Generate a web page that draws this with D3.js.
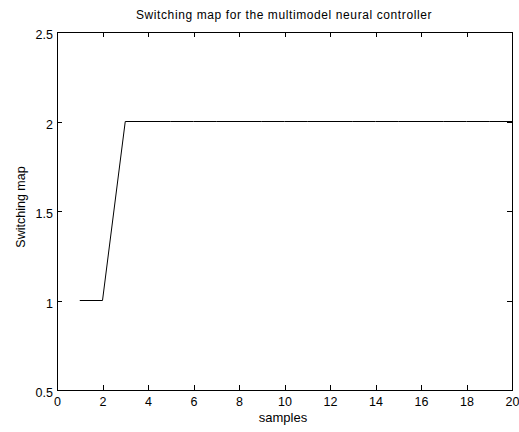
<!DOCTYPE html>
<html><head><meta charset="utf-8">
<script src="https://cdn.jsdelivr.net/npm/d3@7"></script>
<style>body{margin:0;background:#fff}svg{display:block}text{font-family:"Liberation Sans",Arial,sans-serif;fill:#000}</style>
</head><body><svg id="c" width="519" height="432"></svg>
<script>
const samples = [1,2,3,4,5,6,7,8,9,10,11,12,13,14,15,16,17,18,19,20];
const switchingMap = [1,1,2,2,2,2,2,2,2,2,2,2,2,2,2,2,2,2,2,2];
const xTicks = [0,2,4,6,8,10,12,14,16,18,20];
const yTicks = [0.5,1,1.5,2,2.5];
const title = "Switching map for the multimodel neural controller";
const xLabel = "samples", yLabel = "Switching map";

const svg = d3.select("#c");
const L=57, R=512, T=32, B=390;
const x = d3.scaleLinear().domain([0,20]).range([L,R]);
const y = d3.scaleLinear().domain([0.5,2.5]).range([B,T]);
svg.append("rect").attr("width",519).attr("height",432).attr("fill","#fff");
const fmt = d=>String(d);
const ax = svg.append("g").attr("transform",`translate(0,${B})`).call(d3.axisBottom(x).tickValues(xTicks).tickFormat(fmt).tickSizeInner(-5).tickSizeOuter(0).tickPadding(7));
const axT = svg.append("g").attr("transform",`translate(0,${T})`).call(d3.axisTop(x).tickValues(xTicks).tickFormat("").tickSizeInner(-5).tickSizeOuter(0));
const ay = svg.append("g").attr("transform",`translate(${L},0)`).call(d3.axisLeft(y).tickValues(yTicks).tickFormat(fmt).tickSizeInner(-5).tickSizeOuter(0).tickPadding(4));
const ayR = svg.append("g").attr("transform",`translate(${R},0)`).call(d3.axisRight(y).tickValues(yTicks).tickFormat("").tickSizeInner(-5).tickSizeOuter(0));
[ax,axT,ay,ayR].forEach(g=>{g.selectAll("path,line").attr("stroke","#000").attr("shape-rendering","crispEdges");g.selectAll("text").attr("font-size",12.5).attr("font-family","Liberation Sans, Arial, sans-serif");});
ax.selectAll("text").attr("dy","0.71em");
ay.selectAll("text").attr("dy","0.55em");
svg.append("rect").attr("x",L).attr("y",T).attr("width",R-L).attr("height",B-T).attr("fill","none").attr("stroke","#000").attr("shape-rendering","crispEdges");
svg.append("path").datum(samples.map((s,i)=>[s,switchingMap[i]]))
  .attr("d",d3.line().x(d=>x(d[0])).y(d=>y(d[1])))
  .attr("fill","none").attr("stroke","#000").attr("stroke-width",1);
svg.append("text").attr("x",284).attr("y",19).attr("text-anchor","middle").attr("font-size",12).attr("letter-spacing","0.6px").text(title);
svg.append("text").attr("x",283).attr("y",422).attr("text-anchor","middle").attr("font-size",13).text(xLabel);
svg.append("text").attr("transform",`translate(25,207) rotate(-90)`).attr("text-anchor","middle").attr("font-size",12.5).text(yLabel);
</script></body></html>
